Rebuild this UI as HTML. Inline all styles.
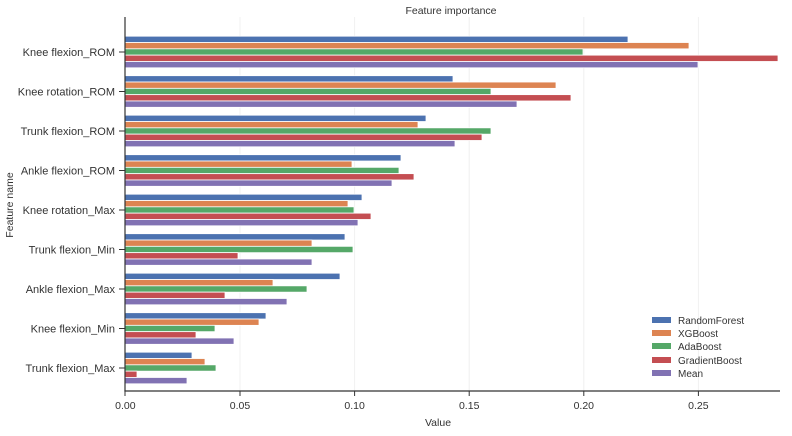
<!DOCTYPE html>
<html><head><meta charset="utf-8"><style>
html,body{margin:0;padding:0;background:#fff}
svg{display:block;font-family:"Liberation Sans","DejaVu Sans",sans-serif}
</style></head><body>
<svg width="792" height="436" viewBox="0 0 792 436" xmlns="http://www.w3.org/2000/svg">
<rect width="792" height="436" fill="#fff"/>
<g stroke="#f0f0f0" stroke-width="1">
<line x1="240" y1="17" x2="240" y2="391"/><line x1="354.6" y1="17" x2="354.6" y2="391"/><line x1="469.2" y1="17" x2="469.2" y2="391"/><line x1="583.8" y1="17" x2="583.8" y2="391"/><line x1="698.4" y1="17" x2="698.4" y2="391"/>
</g>
<g id="bars" stroke="#fff" stroke-width="0.8"></g>
<g stroke="#333" stroke-width="1.2">
<line x1="125" y1="17" x2="125" y2="391.5"/><line x1="124.4" y1="391" x2="780" y2="391"/>
</g>
<g id="yt" font-size="11" fill="#333" text-anchor="end"></g>
<g font-size="10.5" fill="#333" text-anchor="middle">
<text x="125.4" y="409">0.00</text><text x="240" y="409">0.05</text><text x="354.6" y="409">0.10</text><text x="469.2" y="409">0.15</text><text x="583.8" y="409">0.20</text><text x="698.4" y="409">0.25</text>
<text x="451" y="14" font-size="10.5">Feature importance</text>
<text x="438" y="426">Value</text>
<text transform="translate(13,205) rotate(-90)">Feature name</text>
</g>
<g stroke="#333" stroke-width="1">
<line x1="125" y1="391" x2="125" y2="396"/><line x1="240" y1="391" x2="240" y2="396"/><line x1="354.6" y1="391" x2="354.6" y2="396"/><line x1="469.2" y1="391" x2="469.2" y2="396"/><line x1="583.8" y1="391" x2="583.8" y2="396"/><line x1="698.4" y1="391" x2="698.4" y2="396"/>
</g>
<g font-size="10" fill="#333">
<rect x="652" y="317" width="19" height="6" fill="#4c72b0"/><text x="678" y="324">RandomForest</text>
<rect x="652" y="330" width="19" height="6" fill="#dd8452"/><text x="678" y="337">XGBoost</text>
<rect x="652" y="343" width="19" height="6" fill="#55a868"/><text x="678" y="350">AdaBoost</text>
<rect x="652" y="357" width="19" height="6" fill="#c44e52"/><text x="678" y="364">GradientBoost</text>
<rect x="652" y="370" width="19" height="6" fill="#8172b3"/><text x="678" y="377">Mean</text>
</g>
<script>
var names=["Knee flexion_ROM","Knee rotation_ROM","Trunk flexion_ROM","Ankle flexion_ROM","Knee rotation_Max","Trunk flexion_Min","Ankle flexion_Max","Knee flexion_Min","Trunk flexion_Max"];
var ends=[[628,689,583,778,698],[453,556,491,571,517],[426,418,491,482,455],[401,352,399,414,392],[362,348,354,371,358],[345,312,353,238,312],[340,273,307,225,287],[266,259,215,196,234],[192,205,216,137,187]];
var cols=["#4c72b0","#dd8452","#55a868","#c44e52","#8172b3"];
var ns="http://www.w3.org/2000/svg",b=document.getElementById("bars"),yt=document.getElementById("yt"),ax=document.querySelector("g[stroke='#333'][stroke-width='1']");
for(var i=0;i<9;i++){var c=52+39.5*i;
for(var k=0;k<5;k++){var r=document.createElementNS(ns,"rect");r.setAttribute("x",125);r.setAttribute("y",c-15.8+k*6.32);r.setAttribute("width",ends[i][k]-125);r.setAttribute("height",6.32);r.setAttribute("fill",cols[k]);b.appendChild(r);}
var t=document.createElementNS(ns,"text");t.setAttribute("x",115);t.setAttribute("y",c+4);t.textContent=names[i];yt.appendChild(t);
var l=document.createElementNS(ns,"line");l.setAttribute("x1",119);l.setAttribute("x2",125);l.setAttribute("y1",c);l.setAttribute("y2",c);ax.appendChild(l);}
</script>
</svg>
</body></html>
